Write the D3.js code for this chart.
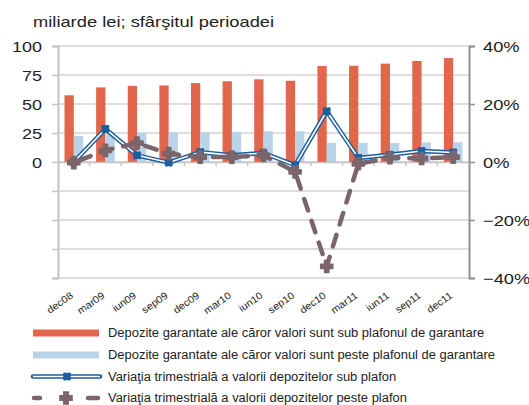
<!DOCTYPE html>
<html><head><meta charset="utf-8">
<script src="https://cdn.jsdelivr.net/npm/d3@7"></script>
<style>
body{margin:0;background:#fff;}
text{font-family:"Liberation Sans",Arial,sans-serif;fill:#222;}
</style></head>
<body><svg id="c" width="529" height="405"></svg>
<script>
const categories = ["dec08","mar09","iun09","sep09","dec09","mar10","iun10","sep10","dec10","mar11","iun11","sep11","dec11"];
const subPlafon = [57.5,64.3,65.6,66,68,69.6,71.3,70,82.8,83,84.8,87.1,89.7];
const pestePlafon = [22.5,24,25,25.4,25.4,26,26.5,26.5,16.4,16.4,16.4,17,17];
const varSub = [0.0,11.4,2.3,-0.2,3.4,2.3,3.1,-1.1,17.5,1.4,2.5,3.8,3.3];
const varPeste = [-0.2,4.0,6.5,2.9,1.7,1.7,2.3,-3.4,-36,-0.6,1.5,1.2,1.7];
const leftTicks = [0,25,50,75,100];
const rightTicks = [-0.4,-0.2,0,0.2,0.4];
const gridTicks = [-100,-75,-50,-25,0,25,50,75,100];
const legendLabels = [
 "Depozite garantate ale căror valori sunt sub plafonul de garantare",
 "Depozite garantate ale căror valori sunt peste plafonul de garantare",
 "Variaţia trimestrială a valorii depozitelor sub plafon",
 "Variaţia trimestrială a valorii depozitelor peste plafon"];
const title = "miliarde lei; sfârşitul perioadei";

const C = {orange:"#e1664b", light:"#b9d4e8", blue:"#1d5f9e", gray:"#7b656b"};
const svg = d3.select("#c");
const L = 58, R = 469, T = 46, B = 278;
const x = d3.scaleBand().domain(categories).range([L,R]);
const xs = d3.scaleBand().domain([0,1]).range([0,x.bandwidth()]).paddingInner(0).paddingOuter(0.7);
const yL = d3.scaleLinear().domain([-100,100]).range([B,T]);
const yR = d3.scaleLinear().domain([-0.4,0.4]).range([B,T]);
const cx = d => x(d) + x.bandwidth()/2;

function stretch(sel, k){
  sel.each(function(){
    const w = this.getComputedTextLength();
    if (w > 0) d3.select(this).attr("textLength", w*k).attr("lengthAdjust","spacingAndGlyphs");
  });
}

svg.append("text").attr("x",33).attr("y",26.5).attr("font-size",15).text(title).call(stretch,1.22);

// gridlines
svg.append("g").selectAll("line").data(gridTicks).join("line")
 .attr("x1",L).attr("x2",R).attr("y1",d=>yL(d)).attr("y2",d=>yL(d))
 .attr("stroke","#d3d3d6").attr("stroke-width",1.5);

// left axis
const gl = svg.append("g").attr("transform",`translate(${L},0)`)
 .call(d3.axisLeft(yL).tickValues(gridTicks).tickSize(6).tickFormat(d=>leftTicks.includes(d)?d:""));
gl.select(".domain").attr("stroke","#c4c4c8").attr("stroke-width",2);
gl.selectAll(".tick line").attr("stroke","#c4c4c8").attr("stroke-width",1.5);
gl.selectAll(".tick text").attr("font-size",15).attr("x",-16).attr("dy","0.36em")
 .attr("font-family","Liberation Sans, Arial, sans-serif").attr("fill","#222").call(stretch,1.2);

// right axis
const gr = svg.append("g").attr("transform",`translate(${R},0)`)
 .call(d3.axisRight(yR).tickValues(rightTicks).tickSize(6).tickFormat(d3.format(".0%")));
gr.select(".domain").attr("stroke","#909094").attr("stroke-width",2);
gr.selectAll(".tick line").attr("stroke","#909094").attr("stroke-width",1.5);
gr.selectAll(".tick text").attr("font-size",15).attr("x",14).attr("dy","0.36em")
 .attr("font-family","Liberation Sans, Arial, sans-serif").attr("fill","#222").call(stretch,1.22);

// bars
svg.append("g").selectAll("rect").data(categories).join("rect")
 .attr("x",d=>x(d)+xs(0)).attr("width",xs.bandwidth())
 .attr("y",(d,i)=>yL(subPlafon[i])).attr("height",(d,i)=>yL(0)-yL(subPlafon[i]))
 .attr("fill",C.orange);
svg.append("g").selectAll("rect").data(categories).join("rect")
 .attr("x",d=>x(d)+xs(1)).attr("width",xs.bandwidth())
 .attr("y",(d,i)=>yL(pestePlafon[i])).attr("height",(d,i)=>yL(0)-yL(pestePlafon[i]))
 .attr("fill",C.light);

// x ticks on zero line
const gx = svg.append("g").attr("transform",`translate(0,${yL(0)})`)
 .call(d3.axisBottom(x).tickSize(0).tickFormat(""));
gx.select(".domain").attr("stroke","#c4c4c8").attr("stroke-width",1.5);
svg.append("g").selectAll("line").data(categories.slice(1)).join("line")
 .attr("x1",d=>x(d)).attr("x2",d=>x(d)).attr("y1",yL(0)).attr("y2",yL(0)+4)
 .attr("stroke","#c4c4c8").attr("stroke-width",1.5);

// x labels
svg.append("g").selectAll("text").data(categories).join("text")
 .attr("transform",d=>`translate(${cx(d)},${B+19}) rotate(-35)`)
 .attr("text-anchor","end").attr("font-size",10).text(d=>d).call(stretch,1.08);

// blue double line
const lineSub = d3.line().x((d,i)=>cx(categories[i])).y(d=>yR(d/100));
svg.append("path").datum(varSub).attr("d",lineSub).attr("fill","none")
 .attr("stroke",C.blue).attr("stroke-width",4.5).attr("stroke-linejoin","round");
svg.append("path").datum(varSub).attr("d",lineSub).attr("fill","none")
 .attr("stroke","#fff").attr("stroke-width",1.6).attr("stroke-linejoin","round");
const starSym = d3.symbol().type(d3.symbolSquare).size(55);
const crossSym = d3.symbol().type(d3.symbolCross).size(75);
const xSym = d3.symbol().type(d3.symbolCross).size(45);
svg.append("g").selectAll("path").data(varSub).join("path")
 .attr("transform",(d,i)=>`translate(${cx(categories[i])},${yR(d/100)})`)
 .attr("d",starSym).attr("fill",C.blue);
svg.append("g").selectAll("path").data(varSub).join("path")
 .attr("transform",(d,i)=>`translate(${cx(categories[i])},${yR(d/100)}) rotate(45)`)
 .attr("d",xSym).attr("fill",C.blue);

// gray dashed line
const linePeste = d3.line().x((d,i)=>cx(categories[i])).y(d=>yR(d/100));
svg.append("path").datum(varPeste).attr("d",linePeste).attr("fill","none")
 .attr("stroke",C.gray).attr("stroke-width",4.5).attr("stroke-dasharray","12,11")
 .attr("stroke-linecap","round").attr("stroke-dashoffset",-6);
svg.append("g").selectAll("path").data(varPeste).join("path")
 .attr("transform",(d,i)=>`translate(${cx(categories[i])},${yR(d/100)})`)
 .attr("d",crossSym).attr("fill",C.gray).attr("stroke",C.gray).attr("stroke-width",2).attr("stroke-linejoin","round");

// legend
const ly = [333,355,376.5,398];
const lg = svg.append("g");
lg.append("rect").attr("x",33).attr("y",ly[0]-3.5).attr("width",66).attr("height",7).attr("fill",C.orange);
lg.append("rect").attr("x",33).attr("y",ly[1]-3.5).attr("width",66).attr("height",7).attr("fill",C.light);
lg.append("line").attr("x1",33).attr("x2",100).attr("y1",ly[2]).attr("y2",ly[2]).attr("stroke",C.blue).attr("stroke-width",4.5).attr("stroke-linecap","round");
lg.append("line").attr("x1",33).attr("x2",100).attr("y1",ly[2]).attr("y2",ly[2]).attr("stroke","#fff").attr("stroke-width",1.6);
lg.append("path").attr("transform",`translate(67,${ly[2]})`).attr("d",starSym).attr("fill",C.blue);
lg.append("path").attr("transform",`translate(67,${ly[2]}) rotate(45)`).attr("d",xSym).attr("fill",C.blue);
lg.append("line").attr("x1",34).attr("x2",40).attr("y1",ly[3]).attr("y2",ly[3]).attr("stroke",C.gray).attr("stroke-width",4.5).attr("stroke-linecap","round");
lg.append("line").attr("x1",88).attr("x2",98).attr("y1",ly[3]).attr("y2",ly[3]).attr("stroke",C.gray).attr("stroke-width",4.5).attr("stroke-linecap","round");
lg.append("path").attr("transform",`translate(66,${ly[3]})`).attr("d",crossSym).attr("fill",C.gray).attr("stroke",C.gray).attr("stroke-width",2);
lg.selectAll("text.lt").data(legendLabels).join("text").attr("class","lt")
 .attr("x",108).attr("y",(d,i)=>ly[i]).attr("dy","0.35em").attr("font-size",12.5).text(d=>d).call(stretch,1.035);
</script></body></html>
